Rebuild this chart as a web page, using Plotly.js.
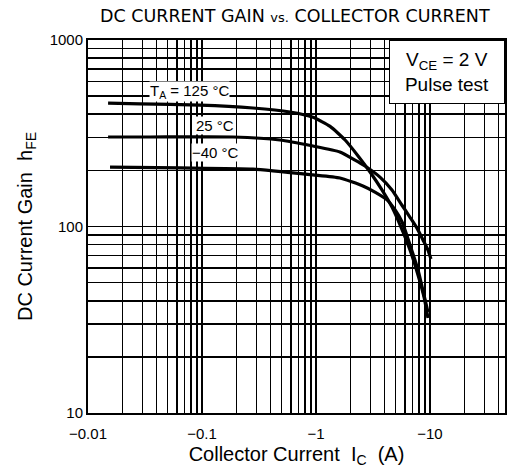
<!DOCTYPE html>
<html>
<head>
<meta charset="utf-8">
<script src="https://cdn.plot.ly/plotly-3.0.1.min.js"></script>
<style>html,body{margin:0;padding:0;background:#fff;}#chart{width:510px;height:471px;}</style>
</head>
<body>
<div id="chart"></div>
<script>
// Collector current magnitude (A) and DC current gain for each ambient temperature
const ic125 = [0.0150, 0.0286, 0.0961, 0.280, 0.591, 0.941, 1.33, 1.80, 2.34, 2.98, 3.79, 4.64, 5.46, 6.68, 7.85, 8.86, 9.60];
const hfe125 = [459, 454, 448, 432, 411, 385, 344, 291, 239, 196, 157, 127, 102, 74.8, 55, 41.9, 32.3];

const ic25 = [0.0150, 0.0350, 0.187, 0.483, 0.941, 1.62, 2.20, 2.69, 3.64, 4.64, 5.68, 6.68, 7.69, 8.68, 9.60, 10.2];
const hfe25 = [302, 302, 302, 291, 270, 251, 227, 211, 184, 157, 130, 112, 98, 84.7, 74.8, 67];

const icM40 = [0.0156, 0.0642, 0.280, 0.941, 1.62, 2.58, 3.29, 4.20, 4.93, 5.68, 6.68, 7.85, 8.86, 9.60];
const hfeM40 = [208, 206, 203, 189, 182, 165, 153, 139, 123, 106, 79.6, 58.5, 42.9, 34.8];

const xTickVals = [0.01, 0.1, 1, 10];
const xTickText = ["\u22120.01", "\u22120.1", "\u22121", "\u221210"];
const yTickVals = [10, 100, 1000];
const yTickText = ["10", "100", "1000"];

const seriesNames = ["T<sub>A</sub> = 125 °C", "25 °C", "\u221240 °C"];

const lineStyle = {color: "#000", width: 3.2, shape: "spline", smoothing: 0.5};
const traces = [
  {x: ic125, y: hfe125, name: seriesNames[0]},
  {x: ic25, y: hfe25, name: seriesNames[1]},
  {x: icM40, y: hfeM40, name: seriesNames[2]}
].map(t => Object.assign(t, {type: "scatter", mode: "lines", line: lineStyle, hoverinfo: "skip"}));

const font = {family: "Liberation Sans, Arial, sans-serif", color: "#000"};
const gridStyle = {showgrid: true, gridcolor: "#000", gridwidth: 1.8};
const minorStyle = {dtick: "D1", showgrid: true, gridcolor: "#000", gridwidth: 1.6, ticks: ""};

const layout = {
  width: 510, height: 471,
  margin: {l: 88, r: 5, t: 40, b: 58},
  paper_bgcolor: "#fff", plot_bgcolor: "#fff",
  showlegend: false,
  font: Object.assign({size: 14}, font),
  title: {
    text: "DC CURRENT GAIN <span style='font-size:13px'>vs.</span> COLLECTOR CURRENT",
    font: {family: "DejaVu Sans, sans-serif", size: 17.5, color: "#000"},
    x: 0.578, xanchor: "center", y: 0.966, yanchor: "middle"
  },
  xaxis: Object.assign({
    type: "log",
    range: [-2, 1.658],
    tickvals: xTickVals, ticktext: xTickText,
    tickfont: Object.assign({size: 15}, font),
    ticks: "", ticklabelstandoff: 6,
    showline: true, mirror: true, linecolor: "#000", linewidth: 2,
    zeroline: false,
    minor: minorStyle,
    title: {text: "Collector Current  I<sub>C</sub>  (A)", font: Object.assign({size: 20}, font), standoff: 6}
  }, gridStyle),
  yaxis: Object.assign({
    type: "log",
    range: [1, 3],
    tickvals: yTickVals, ticktext: yTickText,
    tickfont: Object.assign({size: 15}, font),
    ticks: "", showline: true, mirror: true, linecolor: "#000", linewidth: 2,
    zeroline: false,
    minor: minorStyle,
    title: {text: "DC Current Gain  h<sub>FE</sub>", font: Object.assign({size: 20}, font), standoff: 12}
  }, gridStyle),
  annotations: [
    {xref: "paper", yref: "paper", x: 1, y: 1, xanchor: "right", yanchor: "top",
     text: "V<sub>CE</sub> = 2 V<br>Pulse test", showarrow: false, align: "center",
     font: Object.assign({size: 19}, font),
     bgcolor: "#fff", bordercolor: "#000", borderwidth: 1, width: 114, height: 62, borderpad: 0},
    {xref: "paper", yref: "paper", x: 0.2446, y: 0.862, xanchor: "center", yanchor: "middle",
     text: seriesNames[0], showarrow: false,
     font: Object.assign({size: 15}, font), bgcolor: "#fff", borderpad: 0},
    {xref: "paper", yref: "paper", x: 0.3046, y: 0.770, xanchor: "center", yanchor: "middle",
     text: seriesNames[1], showarrow: false,
     font: Object.assign({size: 15}, font), bgcolor: "#fff", borderpad: 0},
    {xref: "paper", yref: "paper", x: 0.3046, y: 0.699, xanchor: "center", yanchor: "middle",
     text: seriesNames[2], showarrow: false,
     font: Object.assign({size: 15}, font), bgcolor: "#fff", borderpad: 0}
  ]
};

Plotly.newPlot("chart", traces, layout, {staticPlot: true, displayModeBar: false});
</script>
</body>
</html>
